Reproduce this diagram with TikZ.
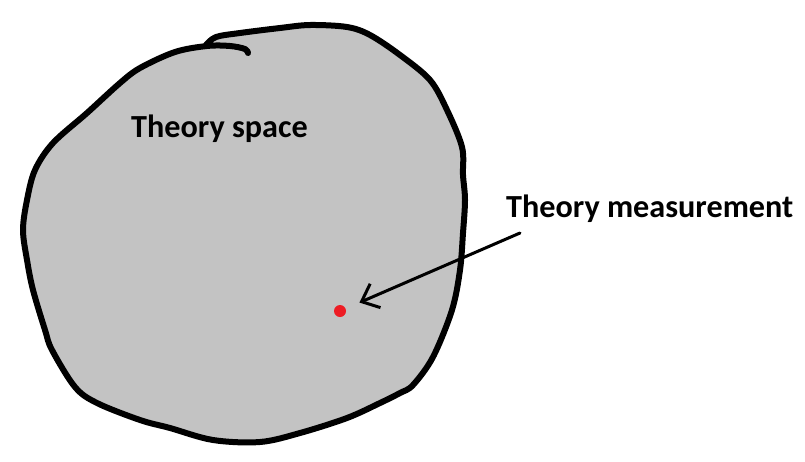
\documentclass[tikz,border=0pt]{standalone}
\usepackage{fontspec}
\setmainfont{Carlito}
\usetikzlibrary{arrows.meta}
\definecolor{blobgray}{RGB}{195,195,195}
\definecolor{paintred}{RGB}{237,28,36}

\begin{document}
\begin{tikzpicture}[y=-1pt,x=1pt,
  outline/.style={line width=6pt,line join=round,line cap=round},
  label/.style={anchor=base west,inner sep=0pt,font=\fontsize{32.2}{36}\selectfont\bfseries},
  pointer/.style={line width=3pt,line cap=round,shorten >=15pt,
    -{Straight Barb[length=15pt,width=26pt,line width=3pt]}}]
  \useasboundingbox (0,0) rectangle (805,461);
  % the blob
  \fill[blobgray] plot[smooth cycle,tension=0.55] coordinates {
    (205,45) (175,52) (140,68) (120,83) (87,113) (53,143) (35,170) (27,200)
    (23,230) (27,260) (33,290) (45,330) (52,350) (75,387) (97,403) (140,420)
    (170,428) (213,440) (260,442) (300,433) (347,418) (380,403) (400,393)
    (413,385) (433,357) (452,310) (460,270) (463,233) (465,200) (463,175)
    (462,147) (447,110) (430,80) (400,55) (370,35) (347,27) (310,25) (280,28)
    (240,33) (216,37)};
  \draw[outline] plot[smooth,tension=0.55] coordinates {
    (248,53) (245,49) (230,46) (207,46) (175,52) (140,68) (120,83) (87,113)
    (53,143) (35,170) (27,200) (23,230) (27,260) (33,290) (45,330) (52,350)
    (75,387) (97,403) (140,420) (170,428) (213,440) (260,442) (300,433)
    (347,418) (380,403) (400,393) (413,385) (433,357) (452,310) (460,270)
    (463,233) (465,200) (463,175) (462,147) (447,110) (430,80) (400,55)
    (370,35) (347,27) (310,25) (280,28) (240,33) (216,37) (206,45)};
  \node[label] (space) at (131,137) {Theory space};
  \node[label] (meas) at (506,217) {Theory measurement};
  \node[circle,fill=paintred,inner sep=0pt,minimum size=12pt] (dot) at (340,311) {};
  \coordinate (tail) at (520,233);
  \draw[pointer] (tail) -- (dot);
\end{tikzpicture}
\end{document}
